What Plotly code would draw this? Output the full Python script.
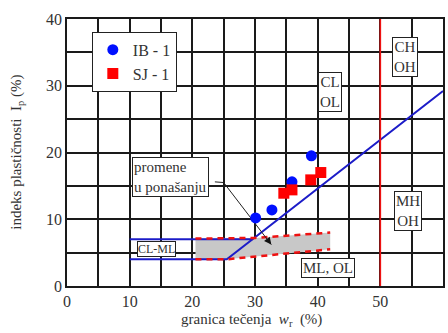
import plotly.graph_objects as go

# Plasticity chart: liquid limit vs plasticity index
ib_wl = [30.1, 32.7, 35.9, 39.0]
ib_ip = [10.2, 11.4, 15.6, 19.5]
sj_wl = [34.6, 35.9, 38.9, 40.5]
sj_ip = [13.9, 14.4, 15.9, 17.0]

# A-line: Ip = 0.73 (wL - 20), starting where Ip = 4
a_line_wl = [10, 25.5, 60]
a_line_ip = [4, 4, 0.73 * (60 - 20)]
cl_ml_top_wl = [10, 29.6]
cl_ml_top_ip = [7, 7]
u_line_wl = [50, 50]
u_line_ip = [0, 40]

# band showing the change in behaviour
band_top_wl = [20.5, 30, 42]
band_top_ip = [7.1, 7.2, 8.0]
band_bot_wl = [20.5, 25.5, 42]
band_bot_ip = [4.0, 4.0, 5.5]

arrow_wl = [23.6, 25.0, 32.6]
arrow_ip = [15.6, 15.5, 6.2]

x_ticks = [0, 10, 20, 30, 40, 50, 60]
y_ticks = [0, 10, 20, 30, 40]

FONT = "Liberation Serif"
TXT = "#333333"
BLUE = "#1c1cc8"
RED = "#ee1111"
GRID = "#1a1a1a"

fig = go.Figure()

fig.add_trace(go.Scatter(
    x=band_top_wl + band_bot_wl[::-1], y=band_top_ip + band_bot_ip[::-1],
    fill="toself", fillcolor="#c8c8c8", line=dict(width=0),
    mode="lines", hoverinfo="skip", showlegend=False))

fig.add_trace(go.Scatter(x=a_line_wl, y=a_line_ip, mode="lines",
                         line=dict(color=BLUE, width=2), showlegend=False))
fig.add_trace(go.Scatter(x=cl_ml_top_wl, y=cl_ml_top_ip, mode="lines",
                         line=dict(color=BLUE, width=2), showlegend=False))
fig.add_trace(go.Scatter(x=u_line_wl, y=u_line_ip, mode="lines",
                         line=dict(color=RED, width=1.6), showlegend=False))

for xs, ys in ((band_top_wl, band_top_ip), (band_bot_wl, band_bot_ip)):
    fig.add_trace(go.Scatter(x=xs, y=ys, mode="lines",
                             line=dict(color=RED, width=2.5, dash="6px,5px"),
                             showlegend=False))

fig.add_trace(go.Scatter(x=arrow_wl, y=arrow_ip, mode="lines",
                         line=dict(color="#222222", width=1), showlegend=False))
fig.add_annotation(x=arrow_wl[2], y=arrow_ip[2], ax=arrow_wl[1] + 0.9 * (arrow_wl[2] - arrow_wl[1]),
                   ay=arrow_ip[1] + 0.9 * (arrow_ip[2] - arrow_ip[1]),
                   xref="x", yref="y", axref="x", ayref="y", text="",
                   showarrow=True, arrowhead=2, arrowsize=1.2, arrowwidth=1.2,
                   arrowcolor="#111111")

fig.add_trace(go.Scatter(x=ib_wl, y=ib_ip, mode="markers", name="IB - 1",
                         marker=dict(symbol="circle", size=11, color="#0010ff")))
fig.add_trace(go.Scatter(x=sj_wl, y=sj_ip, mode="markers", name="SJ - 1",
                         marker=dict(symbol="square", size=11, color="#ff0000")))

box = dict(bordercolor="#222222", borderwidth=1, bgcolor="white", showarrow=False,
           xref="x", yref="y")
fig.add_annotation(x=41.9, y=29.0, text="CL<br>OL", font=dict(family=FONT, size=15, color=TXT), **box)
fig.add_annotation(x=54.0, y=34.3, text="CH<br>OH", font=dict(family=FONT, size=15, color=TXT), **box)
fig.add_annotation(x=54.4, y=11.2, text="MH<br>OH", font=dict(family=FONT, size=15, color=TXT), **box)
fig.add_annotation(x=41.6, y=2.7, text="ML, OL", font=dict(family=FONT, size=15, color=TXT), **box)
fig.add_annotation(x=14.3, y=5.6, text="CL-ML", font=dict(family=FONT, size=12, color=TXT),
                   borderpad=0, **box)
fig.add_annotation(x=16.55, y=16.4, text="promene<br>u ponašanju", align="left",
                   font=dict(family=FONT, size=15, color=TXT), **box)

fig.add_annotation(xref="paper", yref="paper", x=-0.135, y=0.5, showarrow=False,
                   xanchor="center", yanchor="middle",
                   text="indeks plastičnosti  I<sub>p</sub> (%)", textangle=-90,
                   font=dict(family=FONT, size=15, color=TXT))
fig.add_annotation(xref="paper", yref="paper", x=0.49, y=-0.128, showarrow=False,
                   xanchor="center", yanchor="middle",
                   text="granica tečenja  <i>w</i><sub>r</sub>  (%)",
                   font=dict(family=FONT, size=15, color=TXT))

axis_common = dict(showgrid=True, gridcolor=GRID, gridwidth=1.8,
                   showline=True, linecolor=GRID, linewidth=1.8, mirror=True,
                   zeroline=False, ticks="", tickfont=dict(family=FONT, size=16, color=TXT),
                   minor=dict(dtick=5, showgrid=True, gridcolor=GRID, gridwidth=1.8))
fig.update_xaxes(range=[0, 60], tickvals=x_ticks, **axis_common)
fig.update_yaxes(range=[0, 40], tickvals=y_ticks, **axis_common)

fig.update_layout(
    width=448, height=333,
    margin=dict(l=67, r=5, t=19, b=47, autoexpand=False),
    plot_bgcolor="white", paper_bgcolor="white",
    showlegend=True,
    legend=dict(x=0.066, y=0.952, xanchor="left", yanchor="top",
                bordercolor="#222222", borderwidth=1, bgcolor="white",
                font=dict(family=FONT, size=16, color=TXT),
                itemwidth=30, tracegroupgap=12),
)

fig.write_html("out.html")
